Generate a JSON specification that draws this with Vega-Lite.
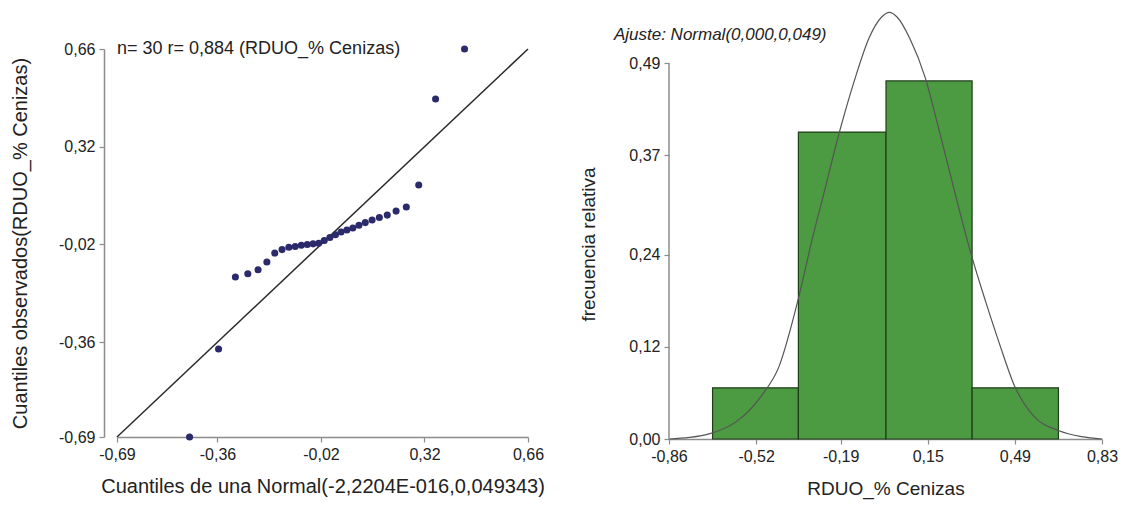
{
  "$schema": "https://vega.github.io/schema/vega-lite/v6.json",
  "padding": {"left": 10, "top": 10, "right": 5, "bottom": 5},
  "background": "white",
  "config": {
    "font": "Liberation Sans",
    "view": {"stroke": null},
    "axis": {
      "grid": false,
      "domainColor": "#8c8c8c",
      "domainWidth": 1.5,
      "tickColor": "#8c8c8c",
      "tickSize": 5,
      "tickWidth": 1.2,
      "labelFont": "Liberation Sans",
      "labelFontSize": 16,
      "labelColor": "#222",
      "labelPadding": 4,
      "labelFlush": false,
      "titleFont": "Liberation Sans",
      "titleFontSize": 19,
      "titleFontWeight": "normal",
      "titleColor": "#222"
    },
    "axisX": {"labelFlush": false},
    "concat": {"spacing": 34}
  },
  "datasets": {
    "qq": [
      {"x": -0.4516, "y": -0.690},
      {"x": -0.3564, "y": -0.384},
      {"x": -0.3011, "y": -0.133},
      {"x": -0.2603, "y": -0.122},
      {"x": -0.2267, "y": -0.108},
      {"x": -0.1977, "y": -0.081},
      {"x": -0.1718, "y": -0.050},
      {"x": -0.1479, "y": -0.038},
      {"x": -0.1255, "y": -0.030},
      {"x": -0.1047, "y": -0.027},
      {"x": -0.0846, "y": -0.023},
      {"x": -0.0651, "y": -0.020},
      {"x": -0.0460, "y": -0.018},
      {"x": -0.0276, "y": -0.016},
      {"x": -0.0092, "y": -0.006},
      {"x": 0.0092, "y": 0.004},
      {"x": 0.0276, "y": 0.014},
      {"x": 0.0460, "y": 0.023},
      {"x": 0.0651, "y": 0.030},
      {"x": 0.0846, "y": 0.037},
      {"x": 0.1047, "y": 0.047},
      {"x": 0.1255, "y": 0.056},
      {"x": 0.1479, "y": 0.065},
      {"x": 0.1718, "y": 0.074},
      {"x": 0.1977, "y": 0.082},
      {"x": 0.2267, "y": 0.096},
      {"x": 0.2603, "y": 0.110},
      {"x": 0.3011, "y": 0.187},
      {"x": 0.3564, "y": 0.486},
      {"x": 0.4516, "y": 0.660}
    ],
    "refline": [
      {"x": -0.69, "y": -0.69},
      {"x": 0.66, "y": 0.66}
    ],
    "anotacion": [
      {"x": -0.69, "y": 0.66, "label": "n= 30 r= 0,884 (RDUO_% Cenizas)"}
    ],
    "ajuste": [
      {"x": -1.075, "y": 0.527, "label": "Ajuste: Normal(0,000,0,049)"}
    ],
    "hist": [
      {"desde": -0.69, "hasta": -0.355, "frec": 0.0667},
      {"desde": -0.355, "hasta": -0.013, "frec": 0.4},
      {"desde": -0.013, "hasta": 0.323, "frec": 0.4667},
      {"desde": 0.323, "hasta": 0.66, "frec": 0.0667}
    ],
    "curva": [
      {"x": -0.86, "y": 0.000},
      {"x": -0.78, "y": 0.002},
      {"x": -0.70, "y": 0.007},
      {"x": -0.60, "y": 0.022},
      {"x": -0.50, "y": 0.056},
      {"x": -0.43, "y": 0.095},
      {"x": -0.355, "y": 0.183},
      {"x": -0.30, "y": 0.262},
      {"x": -0.264, "y": 0.309},
      {"x": -0.19, "y": 0.406},
      {"x": -0.13, "y": 0.474},
      {"x": -0.08, "y": 0.522},
      {"x": -0.03, "y": 0.550},
      {"x": 0.00, "y": 0.556},
      {"x": 0.03, "y": 0.550},
      {"x": 0.08, "y": 0.522},
      {"x": 0.14, "y": 0.471},
      {"x": 0.19, "y": 0.408},
      {"x": 0.265, "y": 0.309},
      {"x": 0.32, "y": 0.240},
      {"x": 0.376, "y": 0.179},
      {"x": 0.43, "y": 0.124},
      {"x": 0.49, "y": 0.068},
      {"x": 0.56, "y": 0.031},
      {"x": 0.66, "y": 0.011},
      {"x": 0.75, "y": 0.003},
      {"x": 0.83, "y": 0.000}
    ]
  },
  "hconcat": [
    {
      "width": 411,
      "height": 388,
      "encoding": {
        "x": {
          "field": "x",
          "type": "quantitative",
          "scale": {"domain": [-0.69, 0.66], "nice": false, "zero": false},
          "axis": {
            "values": [-0.69, -0.36, -0.02, 0.32, 0.66],
            "labelExpr": "replace(replace(format(datum.value, '.2f'), '.', ','), '\u2212', '-')",
            "labelFlush": false,
            "title": "Cuantiles de una Normal(-2,2204E-016,0,049343)",
            "titlePadding": 14,
            "titleFontSize": 20
          }
        },
        "y": {
          "field": "y",
          "type": "quantitative",
          "scale": {"domain": [-0.69, 0.66], "nice": false, "zero": false},
          "axis": {
            "values": [-0.69, -0.36, -0.02, 0.32, 0.66],
            "labelExpr": "replace(replace(format(datum.value, '.2f'), '.', ','), '\u2212', '-')",
            "title": "Cuantiles observados(RDUO_% Cenizas)",
            "offset": 13,
            "titlePadding": 28,
            "titleFontSize": 20
          }
        }
      },
      "layer": [
        {
          "data": {"name": "refline"},
          "mark": {"type": "line", "color": "#2a2a2a", "strokeWidth": 1.5}
        },
        {
          "data": {"name": "qq"},
          "mark": {"type": "circle", "size": 50, "color": "#2b2a6b", "opacity": 1}
        },
        {
          "data": {"name": "anotacion"},
          "mark": {"type": "text", "align": "left", "baseline": "middle", "fontSize": 18, "color": "#222", "font": "Liberation Sans"},
          "encoding": {
            "text": {"field": "label"}
          }
        }
      ]
    },
    {
      "width": 433,
      "height": 390,
      "layer": [
        {
          "data": {"name": "hist"},
          "mark": {"type": "rect", "color": "#4c9a41", "stroke": "#1f3d1a", "strokeWidth": 1.2},
          "encoding": {
            "x": {
              "field": "desde",
              "type": "quantitative",
              "scale": {"domain": [-0.86, 0.83], "nice": false, "zero": false},
              "axis": {
                "values": [-0.86, -0.52, -0.19, 0.15, 0.49, 0.83],
                "labelExpr": "replace(replace(format(datum.value, '.2f'), '.', ','), '\u2212', '-')",
                "labelFlush": false,
                "title": "RDUO_% Cenizas",
                "titlePadding": 15
              }
            },
            "x2": {"field": "hasta"},
            "y": {
              "field": "frec",
              "type": "quantitative",
              "scale": {"domain": [0, 0.5083], "nice": false, "zero": true},
              "axis": {
                "values": [0, 0.12, 0.24, 0.37, 0.49],
                "labelExpr": "replace(replace(format(datum.value, '.2f'), '.', ','), '\u2212', '-')",
                "title": "frecuencia relativa",
                "domain": false,
                "titlePadding": 30
              }
            },
            "y2": {"datum": 0}
          }
        },
        {
          "data": {"name": "curva"},
          "mark": {"type": "line", "color": "#555", "strokeWidth": 1.2, "interpolate": "monotone"},
          "encoding": {
            "x": {"field": "x", "type": "quantitative"},
            "y": {"field": "y", "type": "quantitative"}
          }
        },
        {
          "data": {"values": [{}]},
          "mark": {"type": "rule", "color": "#8c8c8c", "strokeWidth": 1.5},
          "encoding": {
            "x": {"datum": -0.86},
            "y": {"datum": 0},
            "y2": {"datum": 0.49}
          }
        },
        {
          "data": {"name": "ajuste"},
          "mark": {"type": "text", "align": "left", "baseline": "middle", "fontSize": 17, "fontStyle": "italic", "color": "#222", "font": "Liberation Sans"},
          "encoding": {
            "x": {"field": "x", "type": "quantitative"},
            "y": {"field": "y", "type": "quantitative"},
            "text": {"field": "label"}
          }
        }
      ]
    }
  ]
}
